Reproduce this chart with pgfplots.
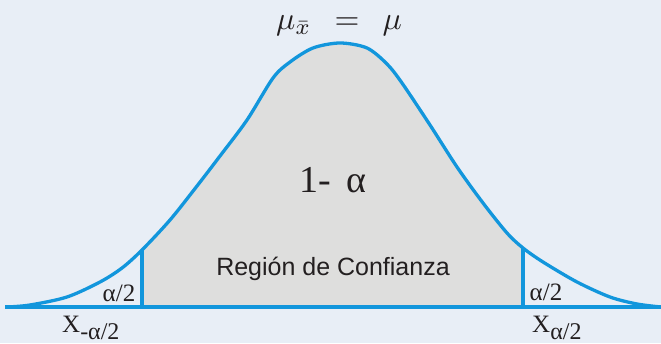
\documentclass[border=0pt]{standalone}
\usepackage{fontspec}
\setmainfont{Liberation Serif}
\newfontfamily\labelsans{Liberation Sans}
\usepackage{graphicx}
\usepackage{pgfplots}
\pgfplotsset{compat=1.18}
\usepgfplotslibrary{fillbetween}

\definecolor{bg}{RGB}{232,238,246}
\definecolor{curveblue}{RGB}{18,150,220}
\definecolor{regiongray}{RGB}{222,222,221}
\definecolor{ink}{RGB}{35,31,32}

\begin{document}
\begin{tikzpicture}
\begin{axis}[
  x=1pt, y=1pt,
  xmin=0, xmax=661, ymin=-36, ymax=307,
  hide axis,
  set layers,
]
% background panel
\begin{pgfonlayer}{axis background}
\fill[bg] (axis cs:0,-36) rectangle (axis cs:661,307);
\end{pgfonlayer}

% sampling distribution of the mean
\pgfplotstableread{
x y
7 0
30 2
67 10
100 25
122 39
142 57
170 87
197 121
220 151
247 187
273 229
290 245
313 259
340 264
367 259
387 243
402 224
430 182
457 140
483 104
507 74
523 59
543 45
577 25
610 10
637 3
661 0
}\density

\addplot[name path=curve, draw=none, smooth, no marks] table {\density};
\path[name path=base] (axis cs:0,0) -- (axis cs:661,0);

% confidence region
\addplot[fill=regiongray, draw=none] fill between[of=curve and base, soft clip={domain=142:523}];

% curve outline
\addplot[curveblue, line width=3.3pt, smooth, no marks] table {\density};

% baseline and critical values
\addplot[curveblue, line width=3.3pt, no marks] coordinates {(5,0) (661,0)};
\addplot[curveblue, line width=3.2pt, no marks] coordinates {(142,0) (142,57)};
\addplot[curveblue, line width=3.2pt, no marks] coordinates {(523,0) (523,59)};

% labels
\node[anchor=base, text=ink] at (axis cs:339,277)
  {\scalebox{3.2}{$\mu_{\bar{x}}\;\,=\;\,\mu$}};
\node[anchor=base, text=ink] at (axis cs:333,114)
  {\fontsize{38}{44}\selectfont 1-\, α};
\node[anchor=base, text=ink] at (axis cs:333,32)
  {\labelsans\fontsize{25}{30}\selectfont Región de Confianza};
\node[anchor=base, text=ink, inner sep=0pt] at (axis cs:119,6)
  {\fontsize{25}{30}\selectfont α/2};
\node[anchor=base, text=ink, inner sep=0pt] at (axis cs:546,7)
  {\fontsize{25}{30}\selectfont α/2};
\node[anchor=base west, text=ink, inner sep=0pt] at (axis cs:62,-25)
  {\fontsize{25}{30}\selectfont X\raisebox{-7pt}{\fontsize{24}{28}\selectfont -α/2}};
\node[anchor=base west, text=ink, inner sep=0pt] at (axis cs:532,-25)
  {\fontsize{25}{30}\selectfont X\raisebox{-7pt}{\fontsize{24}{28}\selectfont α/2}};
\end{axis}
\end{tikzpicture}
\end{document}
